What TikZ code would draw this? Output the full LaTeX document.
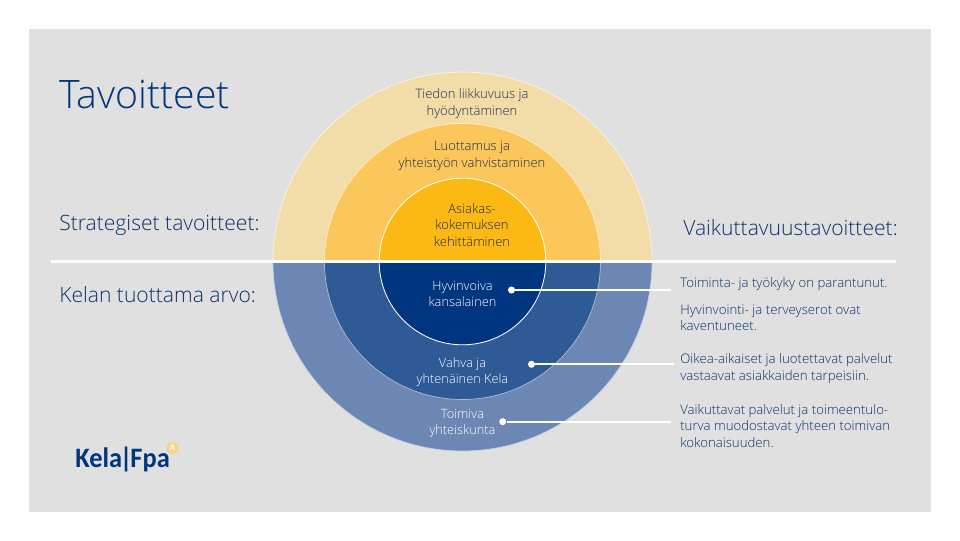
\documentclass[tikz,border=0pt]{standalone}
\usepackage{fontspec}
\setmainfont{Open Sans Light}[BoldFont={Open Sans Bold}]
\newfontfamily\logofont{Carlito}
\usepackage{xcolor}
\usepackage{tikz}
\usetikzlibrary{positioning}
\definecolor{pagegrey}{HTML}{E0E0E0}
\definecolor{goldout}{HTML}{F2DCA8}
\definecolor{goldmid}{HTML}{FBC75A}
\definecolor{goldin}{HTML}{FDB913}
\definecolor{blueout}{HTML}{6C87B3}
\definecolor{bluemid}{HTML}{2E5A96}
\definecolor{bluein}{HTML}{003580}
\definecolor{inktext}{HTML}{0B3268}
\definecolor{ringink}{HTML}{1C2C4C}
\tikzset{
  head/.style ={anchor=west, inner sep=0pt, text=bluein, font=\fontsize{27.9}{28}\selectfont},
  subhead/.style ={anchor=west, inner sep=0pt, text=inktext, font=\fontsize{15}{15}\selectfont},
  ringtxt/.style ={align=center, inner sep=0pt, text=ringink, font=\fontsize{9.25}{12}\selectfont},
  ringwht/.style ={align=center, inner sep=0pt, text=white, font=\fontsize{9.1}{11.4}\selectfont},
  goal/.style ={anchor=north west, align=left, inner sep=0pt, text=inktext, font=\fontsize{9.4}{11.7}\selectfont},
  leaddot/.style ={circle, fill=white, inner sep=0pt, minimum size=5pt},
  leader/.style ={draw=white, line width=1.4pt},
}
\begin{document}
\begin{tikzpicture}[x=0.025cm, y=-0.025cm]
\useasboundingbox (0,0) rectangle (960,540);
\fill[white] (0,0) rectangle (960,540);
\fill[pagegrey] (29,29) rectangle (931,512);

% upper half
\begin{scope}
\clip (200,40) rectangle (720,261.5);
\filldraw[fill=goldout, draw=white!70!goldout, line width=0.5pt] (462.5,261.5) circle [radius=189.5];
\filldraw[fill=goldmid, draw=white!70!goldmid, line width=0.5pt] (462.5,261.5) circle [radius=138];
\filldraw[fill=goldin, draw=white, line width=0.6pt] (462.5,261.5) circle [radius=83.3];
\end{scope}

% lower half
\begin{scope}
\clip (200,261.5) rectangle (720,480);
\filldraw[fill=blueout, draw=white!60!blueout, line width=0.5pt] (462.5,261.5) circle [radius=189.5];
\filldraw[fill=bluemid, draw=white!60!bluemid, line width=0.5pt] (462.5,261.5) circle [radius=138];
\filldraw[fill=bluein, draw=white, line width=0.6pt] (462.5,261.5) circle [radius=83.3];
\end{scope}

% dividing line
\coordinate (divl) at (51,261.5);
\coordinate (divr) at (896,261.5);
\draw[white, line width=2pt] (divl) -- (divr);

% left column
\node[head] (title) at (59,94) {Tavoitteet};
\node[subhead] (strat) at (59,225) {Strategiset tavoitteet:};
\node[subhead] (arvo) at (59,295) {Kelan tuottama arvo:};

% ring labels
\node[ringtxt] (tiedon) at (472,103.5) {Tiedon liikkuvuus ja\\hyödyntäminen};
\node[ringtxt] (luott) at (472,155.5) {Luottamus ja\\yhteistyön vahvistaminen};
\node[ringtxt] (asiakas) at (472,225) {Asiakas-\\kokemuksen\\kehittäminen};
\node[ringwht] (hyvin) at (462.5,293.5) {Hyvinvoiva\\kansalainen};
\node[ringwht] (vahva) at (462.5,372.5) {Vahva ja\\yhtenäinen Kela};
\node[ringwht] (toimiva) at (462.5,423.5) {Toimiva\\yhteiskunta};

% right column
\node[subhead] (vaik) at (683,228) {Vaikuttavuustavoitteet:};
\node[goal] (g1) at (680,277.5) {Toiminta- ja työkyky on parantunut.};
\node[goal] (g2) at (680,304.5) {Hyvinvointi- ja terveyserot ovat\\kaventuneet.};
\node[goal] (g3) at (680,353.5) {Oikea-aikaiset ja luotettavat palvelut\\vastaavat asiakkaiden tarpeisiin.};
\node[goal] (g4) at (680,404) {Vaikuttavat palvelut ja toimeentulo-\\turva muodostavat yhteen toimivan\\kokonaisuuden.};

% leaders
\node[leaddot] (d1) at (511.5,290) {};
\node[leaddot] (d2) at (531.5,364.3) {};
\node[leaddot] (d3) at (502.7,421.7) {};
\coordinate (e1) at (671,290);
\coordinate (e2) at (674,364.3);
\coordinate (e3) at (671,421.7);
\draw[leader] (d1) -- (e1);
\draw[leader] (d2) -- (e2);
\draw[leader] (d3) -- (e3);

% logo
\node[anchor=west, inner sep=0pt, xscale=0.94, text=bluein, font=\logofont\bfseries\fontsize{20}{20}\selectfont] (logo) at (75,460) {Kela\kern-1.6pt|\kern-1.6pt Fpa};
\node[circle, fill=goldmid!75!white, draw=goldmid!85!white, line width=0.6pt, text=white, inner sep=0pt, minimum size=8pt, font=\bfseries\fontsize{5.5}{5.5}\selectfont] (logoa) at (172.5,448) {A};
\end{tikzpicture}
\end{document}
